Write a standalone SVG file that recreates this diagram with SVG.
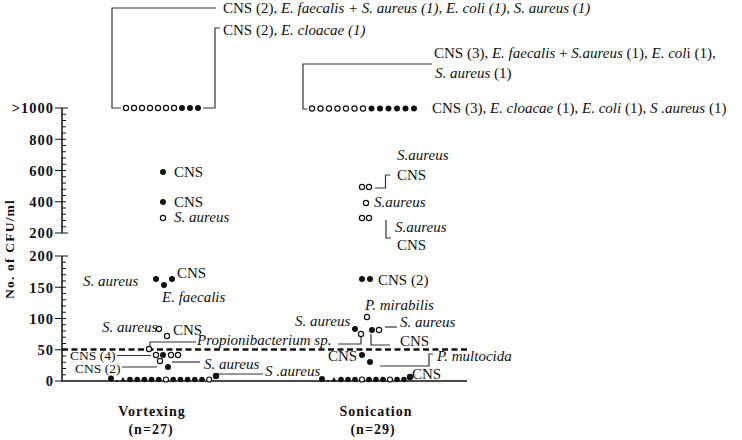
<svg xmlns="http://www.w3.org/2000/svg" width="742" height="440" viewBox="0 0 742 440">
<style>
text{font-family:"Liberation Serif","Times New Roman",serif;font-size:15px;fill:#111}
.i{font-style:italic}
.sm{font-size:13.5px}
.ax{font-weight:bold;font-size:14.5px;letter-spacing:1px;text-anchor:end}
.cat{font-weight:bold;font-size:14px;letter-spacing:1px;text-anchor:middle}
.f{fill:#111}
.o{fill:#fff;stroke:#111;stroke-width:1.2}
.ln{fill:none;stroke:#333;stroke-width:1.2}
.axis{fill:none;stroke:#111;stroke-width:1.5}
.tk{fill:none;stroke:#111;stroke-width:1.1}
</style>
<rect width="742" height="440" fill="#fff"/>
<g id="axis">
<path class="axis" d="M62,108 V233 M62,256 V381 H467"/>
<path class="tk" d="M55,108 H68 M55,233 H68 M55,256 H68 M55,139.25 H62 M55,170.5 H62 M55,201.75 H62 M55,287.25 H62 M55,318.5 H62 M55,349.75 H62 M55,381 H62"/>
<path class="tk" d="M62,114.25h4M62,120.5h4M62,126.75h4M62,133h4M62,139.25h4M62,145.5h4M62,151.75h4M62,158h4M62,164.25h4M62,170.5h4M62,176.75h4M62,183h4M62,189.25h4M62,195.5h4M62,201.75h4M62,208h4M62,214.25h4M62,220.5h4M62,226.75h4M62,262.25h4M62,268.5h4M62,274.75h4M62,281h4M62,287.25h4M62,293.5h4M62,299.75h4M62,306h4M62,312.25h4M62,318.5h4M62,324.75h4M62,331h4M62,337.25h4M62,343.5h4M62,349.75h4M62,356h4M62,362.25h4M62,368.5h4M62,374.75h4"/>
<text class="ax" x="54" y="113">&gt;1000</text>
<text class="ax" x="54" y="144.5">800</text>
<text class="ax" x="54" y="175.5">600</text>
<text class="ax" x="54" y="207">400</text>
<text class="ax" x="54" y="238">200</text>
<text class="ax" x="54" y="261">200</text>
<text class="ax" x="54" y="292.5">150</text>
<text class="ax" x="54" y="323.5">100</text>
<text class="ax" x="54" y="355">50</text>
<text class="ax" x="54" y="386">0</text>
<text x="0" y="0" transform="translate(14,249) rotate(-90)" style="font-weight:bold;font-size:13.5px;letter-spacing:1.2px;text-anchor:middle">No. of CFU/ml</text>
<path d="M62,349.5 H469" fill="none" stroke="#111" stroke-width="2.5" stroke-dasharray="6 3.5"/>
<text class="cat" x="152" y="416">Vortexing</text>
<text class="cat" x="151" y="434">(n=27)</text>
<text class="cat" x="376" y="416">Sonication</text>
<text class="cat" x="373" y="434">(n=29)</text>
</g>
<g id="connectors">
<path class="ln" d="M216,8 H112 V108 H121"/>
<path class="ln" d="M220,28 H215 V108 H203"/>
<path class="ln" d="M432,64 H303 V109 H307"/>
<path class="ln" d="M375,188 H385.5 V175 H390"/>
<path class="ln" d="M386,220 V238 H391"/>
<path class="ln" d="M150,346 V342 H196"/>
<path class="ln" d="M117,355.5 H151"/>
<path class="ln" d="M122,367 H157"/>
<path class="ln" d="M172,362 H200"/>
<path class="ln" d="M218,374 H263"/>
<path class="ln" d="M385,327 H397"/>
<path class="ln" d="M338,344 H361 V337"/>
<path class="ln" d="M371,334 V345 H390"/>
<path class="ln" d="M380,366 H429 V354 H433"/>
</g>
<g id="vortex-top">
<circle class="o" cx="126" cy="108" r="2.6"/><circle class="o" cx="134" cy="108" r="2.6"/><circle class="o" cx="142" cy="108" r="2.6"/><circle class="o" cx="150" cy="108" r="2.6"/><circle class="o" cx="158" cy="108" r="2.6"/><circle class="o" cx="166" cy="108" r="2.6"/><circle class="o" cx="174" cy="108" r="2.6"/>
<circle class="f" cx="182" cy="108" r="3"/><circle class="f" cx="190" cy="108" r="3"/><circle class="f" cx="198" cy="108" r="3"/>
<text x="223" y="13">CNS (2), <tspan class="i">E. faecalis + S. aureus (1), E. coli (1), S. aureus (1)</tspan></text>
<text x="223" y="35">CNS (2), <tspan class="i">E. cloacae (1)</tspan></text>
</g>
<g id="sonic-top">
<circle class="o" cx="312" cy="108.5" r="2.6"/><circle class="o" cx="320.5" cy="108.5" r="2.6"/><circle class="o" cx="329" cy="108.5" r="2.6"/><circle class="o" cx="337.5" cy="108.5" r="2.6"/><circle class="o" cx="346" cy="108.5" r="2.6"/><circle class="o" cx="354.5" cy="108.5" r="2.6"/><circle class="o" cx="363" cy="108.5" r="2.6"/>
<circle class="f" cx="371.5" cy="108.5" r="3"/><circle class="f" cx="380" cy="108.5" r="3"/><circle class="f" cx="388.5" cy="108.5" r="3"/><circle class="f" cx="397" cy="108.5" r="3"/><circle class="f" cx="405.5" cy="108.5" r="3"/><circle class="f" cx="414" cy="108.5" r="3"/>
<text x="434" y="58">CNS (3), <tspan class="i">E. faecalis</tspan> + <tspan class="i">S.aureus</tspan> (1), <tspan class="i">E. col</tspan>i  (1),</text>
<text x="435" y="78"><tspan class="i">S. aureus</tspan> (1)</text>
<text x="432" y="113">CNS (3), <tspan class="i">E. cloacae</tspan>  (1), <tspan class="i">E. coli</tspan> (1), <tspan class="i">S .aureus</tspan> (1)</text>
</g>
<g id="vortex-upper">
<circle class="f" cx="163" cy="172" r="3"/><text x="174" y="177">CNS</text>
<circle class="f" cx="163" cy="202" r="3"/><text x="174" y="207">CNS</text>
<circle class="o" cx="163" cy="218" r="2.6"/><text class="i" x="174" y="222">S. aureus</text>
</g>
<g id="sonic-upper">
<text class="i" x="397" y="160">S.aureus</text>
<text x="397" y="180">CNS</text>
<circle class="o" cx="362" cy="187" r="2.6"/><circle class="o" cx="369" cy="187" r="2.6"/>
<circle class="o" cx="366" cy="203" r="2.6"/><text class="i" x="374" y="207">S.aureus</text>
<circle class="o" cx="362" cy="218" r="2.6"/><circle class="o" cx="369" cy="218" r="2.6"/>
<text class="i" x="395" y="232">S.aureus</text>
<text x="397" y="250">CNS</text>
</g>
<g id="vortex-lower">
<text class="i" x="83" y="286">S. aureus</text>
<circle class="f" cx="156" cy="279" r="3"/><circle class="f" cx="164" cy="285" r="3"/><circle class="f" cx="172" cy="279" r="3"/>
<text x="177" y="278">CNS</text>
<text class="i" x="162" y="302">E. faecalis</text>
<text class="i" x="102" y="332">S. aureus</text>
<circle class="o" cx="159" cy="329" r="2.6"/><circle class="o" cx="167" cy="336" r="2.6"/>
<text x="173" y="335">CNS</text>
<circle class="o" cx="149" cy="349" r="2.6"/>
<text class="i" x="197" y="345">Propionibacterium sp.</text>
<circle class="o" cx="156" cy="355" r="2.6"/><circle class="f" cx="163" cy="355" r="3"/><circle class="o" cx="171" cy="355" r="2.6"/><circle class="o" cx="178" cy="355" r="2.6"/>
<circle class="o" cx="160" cy="361" r="2.6"/><circle class="f" cx="168" cy="367" r="3"/>
<text class="sm" x="70" y="359.5">CNS (4)</text>
<text class="sm" x="75" y="372.5">CNS (2)</text>
<text class="i" x="204" y="369">S. aureus</text>
<circle class="f" cx="216" cy="376" r="3.2"/>
<text class="i" x="265" y="376">S .aureus</text>
<circle class="f" cx="111" cy="378.5" r="3"/><circle class="f" cx="117" cy="381" r="1"/>
<path class="f" d="M120.5,381.5 L123,377 L125.5,381.5 Z"/>
<circle class="f" cx="130" cy="379.5" r="2.8"/><circle class="f" cx="137.2" cy="379.5" r="2.8"/><circle class="f" cx="144.4" cy="379.5" r="2.8"/><circle class="f" cx="151.6" cy="379.5" r="2.8"/><circle class="f" cx="158.8" cy="379.5" r="2.8"/><circle class="o" cx="166" cy="379.5" r="2.5"/><circle class="f" cx="173.2" cy="379.5" r="2.8"/><circle class="f" cx="180.4" cy="379.5" r="2.8"/><circle class="f" cx="187.6" cy="379.5" r="2.8"/><circle class="f" cx="194.8" cy="379.5" r="2.8"/><circle class="f" cx="202" cy="379.5" r="2.8"/><circle class="o" cx="209.2" cy="379.5" r="2.5"/>
</g>
<g id="sonic-lower">
<circle class="f" cx="362" cy="279" r="3"/><circle class="f" cx="370" cy="279" r="3"/>
<text x="378" y="285">CNS (2)</text>
<text class="i" x="365" y="310">P. mirabilis</text>
<circle class="o" cx="367" cy="317" r="2.6"/>
<text class="i" x="295" y="326">S. aureus</text>
<circle class="f" cx="355" cy="329" r="3"/><circle class="o" cx="361" cy="334" r="2.6"/><circle class="f" cx="372" cy="330" r="3"/><circle class="o" cx="379" cy="330" r="2.6"/>
<text class="i" x="400" y="327">S. aureus</text>
<text x="400" y="346">CNS</text>
<text x="328" y="361">CNS</text>
<circle class="f" cx="362" cy="355" r="3"/><circle class="f" cx="370" cy="362" r="3"/>
<text class="i" x="437" y="361">P. multocida</text>
<circle class="f" cx="410" cy="377" r="3.2"/>
<text x="412" y="379">CNS</text>
<circle class="f" cx="322" cy="379" r="3"/><circle class="f" cx="328" cy="381" r="1"/>
<path class="f" d="M331.5,381.5 L334,377 L336.5,381.5 Z"/>
<circle class="f" cx="341" cy="379.5" r="2.8"/><circle class="f" cx="348" cy="379.5" r="2.8"/><circle class="f" cx="355" cy="379.5" r="2.8"/><circle class="o" cx="362" cy="379.5" r="2.5"/><circle class="f" cx="369" cy="379.5" r="2.8"/><circle class="f" cx="376" cy="379.5" r="2.8"/><circle class="f" cx="383" cy="379.5" r="2.8"/><circle class="o" cx="390" cy="379.5" r="2.5"/><circle class="f" cx="397" cy="379.5" r="2.8"/><circle class="f" cx="404" cy="379.5" r="2.8"/>
</g>
</svg>
